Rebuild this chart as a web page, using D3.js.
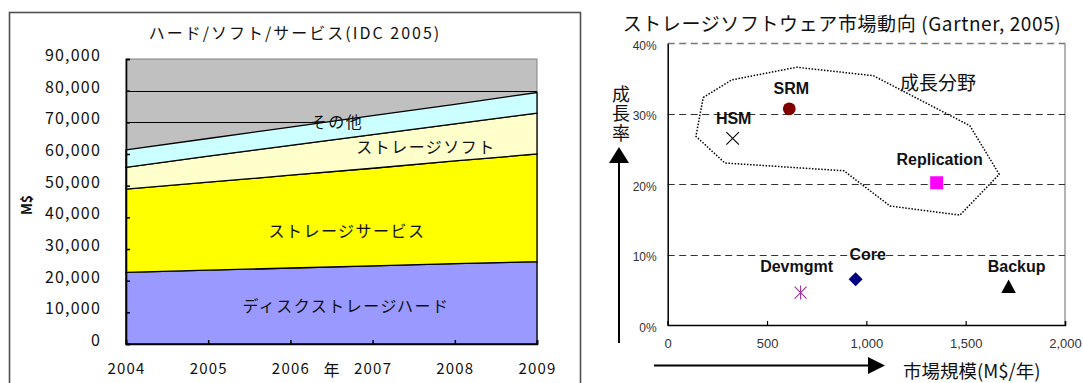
<!DOCTYPE html>
<html>
<head>
<meta charset="utf-8">
<script src="https://cdn.jsdelivr.net/npm/d3@7/dist/d3.min.js"></script>
<style>
  html, body { margin: 0; padding: 0; background: #fff; }
  svg { display: block; }
  .jp { font-family: "Noto Sans CJK JP", "Noto Sans", sans-serif; }
  .lat { font-family: "Liberation Sans", Arial, sans-serif; }
</style>
</head>
<body>
<svg id="chart" width="1083" height="383"></svg>
<script>
// ---- Storage market by segment (IDC 2005), M$ ----
const years = [2004, 2005, 2006, 2007, 2008, 2009];
const diskHardware = [22600, 23300, 24000, 24700, 25400, 26000];
const storageServices = [26300, 27800, 29300, 30800, 32400, 34000];
const storageSoftware = [6900, 8200, 9400, 10600, 11700, 12900];
const otherSegment = [5500, 5600, 5800, 6000, 6200, 6500];
const segmentNames = ["ディスクストレージハード", "ストレージサービス", "ストレージソフト", "その他"];
const leftYTicks = [0, 10000, 20000, 30000, 40000, 50000, 60000, 70000, 80000, 90000];

// ---- Storage software market trends (Gartner, 2005) ----
const products = ["SRM", "HSM", "Replication", "Core", "Devmgmt", "Backup"];
const marketSize = [612, 327, 1354, 946, 669, 1716];      // M$/year
const growthRate = [30.7, 26.5, 20.2, 6.5, 4.6, 5.4];     // %
const growthZoneSize = [179, 322, 649, 1035, 1521, 1669, 1471, 1119, 887, 288, 142];
const growthZoneRate = [32.3, 34.8, 36.6, 35.4, 28.3, 21.4, 15.6, 16.9, 21.9, 23.0, 26.8];
const rightXTicks = [0, 500, 1000, 1500, 2000];
const rightYTicks = [0, 10, 20, 30, 40];

const svg = d3.select("#chart");

/* ================= Left: stacked area chart ================= */
const L = { left: 126, right: 537, top: 59, bottom: 344 };
const lx = d3.scaleLinear().domain([2004, 2009]).range([L.left, L.right]);
const ly = d3.scaleLinear().domain([0, 90000]).range([L.bottom, L.top]);

const left = svg.append("g");

// outer frame
left.append("rect")
  .attr("x", 9.5).attr("y", 12.5).attr("width", 571).attr("height", 400)
  .attr("fill", "#fff").attr("stroke", "#505050").attr("stroke-width", 1.6);

// plot background
left.append("rect")
  .attr("x", L.left).attr("y", L.top)
  .attr("width", L.right - L.left).attr("height", L.bottom - L.top)
  .attr("fill", "#c0c0c0").attr("stroke", "#808080").attr("stroke-width", 1);

// gridlines (behind the areas)
left.append("g").selectAll("line")
  .data(leftYTicks.filter(d => d > 0 && d < 90000))
  .join("line")
  .attr("x1", L.left).attr("x2", L.right)
  .attr("y1", d => Math.round(ly(d)) + 0.5).attr("y2", d => Math.round(ly(d)) + 0.5)
  .attr("stroke", "#000").attr("stroke-width", 1.2);

const rows = years.map((y, i) => ({
  year: y, s0: diskHardware[i], s1: storageServices[i], s2: storageSoftware[i], s3: otherSegment[i]
}));
const stacked = d3.stack().keys(["s0", "s1", "s2", "s3"])(rows);
const fills = ["#9999ff", "#ffff00", "#ffffcc", "#ccffff"];
const area = d3.area()
  .x(d => lx(d.data.year))
  .y0(d => ly(d[0]))
  .y1(d => ly(d[1]));

left.append("g").selectAll("path")
  .data(stacked)
  .join("path")
  .attr("d", area)
  .attr("fill", (d, i) => fills[i])
  .attr("stroke", "#000").attr("stroke-width", 1.3)
  .attr("stroke-linejoin", "miter");

// axes
const lyAxis = d3.axisLeft(ly).tickValues(leftYTicks).tickSize(-4).tickPadding(25)
  .tickFormat(d3.format(","));
const gly = left.append("g").attr("transform", `translate(${L.left},0)`).call(lyAxis);
gly.select(".domain").attr("stroke", "#000").attr("stroke-width", 1.6);
gly.selectAll(".tick line").attr("stroke", "#000").attr("stroke-width", 1.5);
gly.selectAll(".tick text")
  .attr("class", "jp").attr("font-size", 16).attr("fill", "#111")
  .attr("letter-spacing", 1.2).attr("dy", "0.1em");

const lxAxis = d3.axisBottom(lx).tickValues(years).tickSize(-4).tickPadding(19)
  .tickFormat(d3.format("d"));
const glx = left.append("g").attr("transform", `translate(0,${L.bottom})`).call(lxAxis);
glx.select(".domain").attr("stroke", "#000").attr("stroke-width", 1.6);
glx.selectAll(".tick line").attr("stroke", "#000").attr("stroke-width", 1.5);
glx.selectAll(".tick text")
  .attr("class", "jp").attr("font-size", 15).attr("fill", "#111").attr("letter-spacing", 1.2);

// x-axis title between 2006 and 2007
left.append("text").attr("class", "jp")
  .attr("x", (lx(2006) + lx(2007)) / 2).attr("y", 376)
  .attr("text-anchor", "middle").attr("font-size", 16).attr("fill", "#111")
  .text("年");

// y-axis title
left.append("text").attr("class", "jp")
  .attr("transform", "translate(32,205) rotate(-90)")
  .attr("text-anchor", "middle").attr("font-size", 14).attr("font-weight", "bold").attr("fill", "#111")
  .text("M$");

// chart title
left.append("text").attr("class", "jp")
  .attr("x", 295).attr("y", 39)
  .attr("text-anchor", "middle").attr("font-size", 16).attr("fill", "#111")
  .attr("letter-spacing", 2)
  .text("ハード/ソフト/サービス(IDC 2005)");

// segment labels inside the areas
const segLabelPos = [[346, 306], [347, 231], [426, 147], [337, 122]];
left.append("g").selectAll("text")
  .data(segmentNames)
  .join("text")
  .attr("class", "jp")
  .attr("x", (d, i) => segLabelPos[i][0]).attr("y", (d, i) => segLabelPos[i][1])
  .attr("dy", "0.36em")
  .attr("text-anchor", "middle").attr("font-size", 16).attr("fill", "#111")
  .attr("letter-spacing", 1.5)
  .text(d => d);

/* ================= Right: scatter of growth vs. market size ================= */
const R = { left: 667.7, right: 1065, top: 43.3, bottom: 325 };
const rx = d3.scaleLinear().domain([0, 2000]).range([R.left, R.right]);
const ry = d3.scaleLinear().domain([0, 40]).range([R.bottom, R.top]);

const right = svg.append("g");

// right border
right.append("line")
  .attr("x1", R.right).attr("x2", R.right).attr("y1", R.top).attr("y2", R.bottom)
  .attr("stroke", "#808080").attr("stroke-width", 1.2);

// dashed gridlines
right.append("g").selectAll("line")
  .data(rightYTicks.filter(d => d > 0))
  .join("line")
  .attr("x1", R.left).attr("x2", R.right)
  .attr("y1", d => Math.round(ry(d)) + 0.5).attr("y2", d => Math.round(ry(d)) + 0.5)
  .attr("stroke", d => d === 40 ? "#777" : "#333").attr("stroke-width", d => d === 40 ? 1.5 : 1)
  .attr("stroke-dasharray", "7,4.5");

// axes
const ryAxis = d3.axisLeft(ry).tickValues(rightYTicks).tickSize(0).tickPadding(11)
  .tickFormat(d => d + "%");
const gry = right.append("g").attr("transform", `translate(${R.left},0)`).call(ryAxis);
gry.select(".domain").attr("stroke", "#000").attr("stroke-width", 1.5);
gry.selectAll(".tick text").attr("class", "lat").attr("font-size", 12).attr("fill", "#333")
  .attr("dy", "0.5em");

const rxAxis = d3.axisBottom(rx).tickValues(rightXTicks).tickSize(-4).tickPadding(14)
  .tickFormat(d3.format(","));
const grx = right.append("g").attr("transform", `translate(0,${R.bottom})`).call(rxAxis);
grx.select(".domain").attr("stroke", "#000").attr("stroke-width", 1.5);
grx.selectAll(".tick line").attr("stroke", "#000").attr("stroke-width", 1.2);
grx.selectAll(".tick text").attr("class", "lat").attr("font-size", 13).attr("fill", "#333");

// growth zone outline
const zone = growthZoneSize.map((s, i) => [rx(s), ry(growthZoneRate[i])]);
right.append("path")
  .attr("d", d3.line().curve(d3.curveLinearClosed)(zone))
  .attr("fill", "none").attr("stroke", "#000").attr("stroke-width", 1.5)
  .attr("stroke-dasharray", "1.5,1.6");

right.append("text").attr("class", "jp")
  .attr("x", 938).attr("y", 83).attr("dy", "0.36em")
  .attr("text-anchor", "middle").attr("font-size", 19).attr("fill", "#111")
  .text("成長分野");

// markers
const markerStyle = {
  SRM:        { shape: "circle",   color: "#800000" },
  HSM:        { shape: "x",        color: "#000000" },
  Replication:{ shape: "square",   color: "#ff00ff" },
  Core:       { shape: "diamond",  color: "#000080" },
  Devmgmt:    { shape: "asterisk", color: "#993399" },
  Backup:     { shape: "triangle", color: "#000000" }
};
const labelOffset = {
  SRM: [2, -21], HSM: [1, -20], Replication: [3, -24],
  Core: [12, -25], Devmgmt: [-4, -26], Backup: [8, -21]
};
function markerPath(shape) {
  switch (shape) {
    case "circle": return d3.symbol(d3.symbolCircle, Math.PI * 6.4 * 6.4)();
    case "square": return "M-6.5,-6.5H6.5V6.5H-6.5Z";
    case "diamond": return "M0,-7L7,0L0,7L-7,0Z";
    case "triangle": return "M0,-7.5L7.3,6L-7.3,6Z";
    case "x": return "M-6.3,-6.3L6.3,6.3M6.3,-6.3L-6.3,6.3";
    case "asterisk": return "M-6,-6L6,6M6,-6L-6,6M0,-7V7";
  }
}
const pts = products.map((p, i) => ({ name: p, x: marketSize[i], y: growthRate[i] }));
const pg = right.append("g").selectAll("g").data(pts).join("g")
  .attr("transform", d => `translate(${rx(d.x)},${ry(d.y)})`);
pg.append("path")
  .attr("d", d => markerPath(markerStyle[d.name].shape))
  .attr("fill", d => ["x", "asterisk"].includes(markerStyle[d.name].shape) ? "none" : markerStyle[d.name].color)
  .attr("stroke", d => markerStyle[d.name].color)
  .attr("stroke-width", d => ["x", "asterisk"].includes(markerStyle[d.name].shape) ? 1.1 : 0);
pg.append("text").attr("class", "lat")
  .attr("x", d => labelOffset[d.name][0]).attr("y", d => labelOffset[d.name][1])
  .attr("dy", "0.36em").attr("text-anchor", "middle")
  .attr("font-size", 16).attr("font-weight", "bold").attr("fill", "#111")
  .text(d => d.name);

// title
right.append("text").attr("class", "jp")
  .attr("x", 842).attr("y", 31)
  .attr("text-anchor", "middle").attr("font-size", 19).attr("fill", "#111")
  .attr("letter-spacing", 0.6)
  .text("ストレージソフトウェア市場動向 (Gartner, 2005)");

// vertical arrow + label (label set vertically)
right.append("line").attr("x1", 619).attr("x2", 619).attr("y1", 343).attr("y2", 160)
  .attr("stroke", "#000").attr("stroke-width", 2);
right.append("path").attr("d", "M619,147L629,163L609,163Z").attr("fill", "#000");
right.append("text").attr("class", "jp")
  .attr("x", 621).attr("y", 85)
  .style("writing-mode", "vertical-rl")
  .attr("font-size", 18).attr("letter-spacing", 1.5).attr("fill", "#111")
  .text("成長率");

// horizontal arrow + label
right.append("line").attr("x1", 654).attr("x2", 870).attr("y1", 365.5).attr("y2", 365.5)
  .attr("stroke", "#000").attr("stroke-width", 2);
right.append("path").attr("d", "M885,365.5L868,357L868,374Z").attr("fill", "#000");
right.append("text").attr("class", "jp")
  .attr("x", 903).attr("y", 378)
  .attr("font-size", 18.5).attr("fill", "#111")
  .text("市場規模(M$/年)");
</script>
</body>
</html>
